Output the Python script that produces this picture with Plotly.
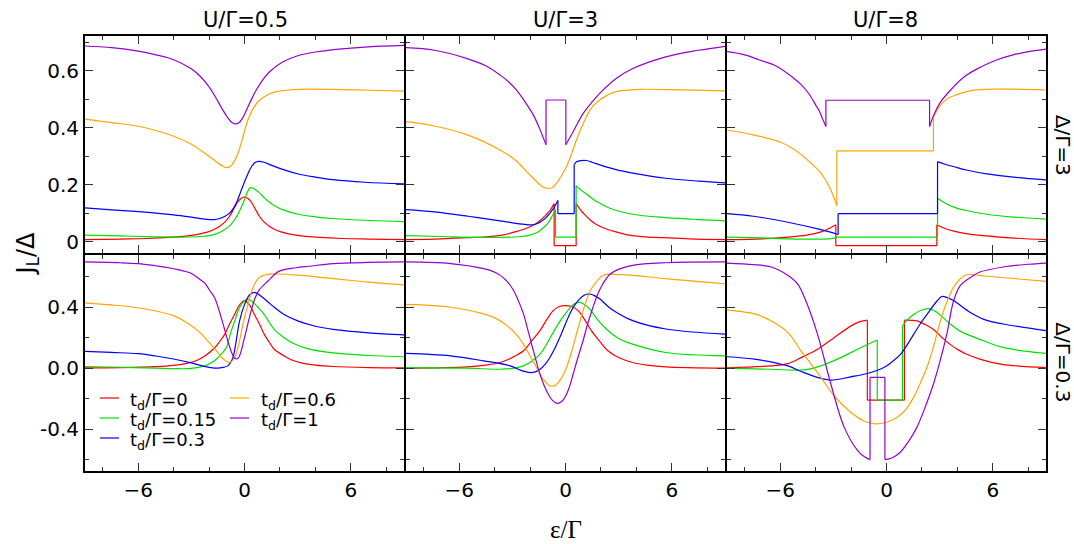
import plotly.graph_objects as go
from plotly.subplots import make_subplots

# column / row labels
u_labels = ["U/Γ=0.5", "U/Γ=3", "U/Γ=8"]
delta_labels = ["Δ/Γ=3", "Δ/Γ=0.3"]
td_labels = ["t<sub>d</sub>/Γ=0", "t<sub>d</sub>/Γ=0.15", "t<sub>d</sub>/Γ=0.3",
             "t<sub>d</sub>/Γ=0.6", "t<sub>d</sub>/Γ=1"]
colors = ["#ff0000", "#00e000", "#0000ff", "#ffa500", "#9400d3"]

# ---- Δ/Γ=3, U/Γ=0.5   (ε/Γ, J_L/Δ)
d3_u05_td0 = [(-9, 0.008), (-7, 0.01), (-5.5, 0.012), (-4, 0.017), (-3.2, 0.021), (-2.5, 0.028),
              (-1.8, 0.041), (-1.4, 0.055), (-1.1, 0.07), (-0.84, 0.09), (-0.6, 0.116), (-0.4, 0.138),
              (-0.2, 0.152), (0, 0.157), (0.2, 0.152), (0.4, 0.138), (0.6, 0.116), (0.84, 0.09),
              (1.1, 0.07), (1.4, 0.055), (1.8, 0.041), (2.5, 0.028), (3.2, 0.021), (4, 0.017),
              (5.5, 0.012), (7, 0.01), (9, 0.008)]
d3_u05_td015 = [(-9, 0.024), (-7, 0.021), (-5, 0.018), (-3.5, 0.017), (-2.5, 0.019), (-2, 0.022),
                (-1.6, 0.028), (-1.2, 0.04), (-0.84, 0.056), (-0.5, 0.083), (-0.25, 0.112), (0, 0.148),
                (0.15, 0.172), (0.32, 0.19), (0.5, 0.188), (0.75, 0.177), (1.0, 0.162), (1.3, 0.144),
                (1.7, 0.127), (2.15, 0.113), (3.1, 0.096), (4, 0.088), (5, 0.082), (7, 0.075), (9, 0.071)]
d3_u05_td03 = [(-9, 0.119), (-7.5, 0.112), (-6, 0.106), (-4, 0.095), (-3, 0.087), (-2.15, 0.079),
               (-1.7, 0.078), (-1.4, 0.082), (-1.1, 0.09), (-0.84, 0.101), (-0.6, 0.12), (-0.4, 0.145),
               (-0.2, 0.178), (0, 0.21), (0.2, 0.24), (0.4, 0.264), (0.6, 0.278), (0.8, 0.282),
               (1.1, 0.279), (1.5, 0.269), (2.15, 0.254), (3.1, 0.237), (4, 0.227), (5, 0.218),
               (6.8, 0.209), (9, 0.203)]
d3_u05_td06 = [(-9, 0.43), (-7.5, 0.418), (-6, 0.405), (-5, 0.39), (-4, 0.37), (-3, 0.342), (-2.5, 0.322),
               (-2, 0.3), (-1.6, 0.281), (-1.3, 0.268), (-1.03, 0.26), (-0.8, 0.264), (-0.6, 0.28),
               (-0.4, 0.305), (-0.2, 0.343), (0, 0.388), (0.2, 0.428), (0.47, 0.465), (0.75, 0.49),
               (1.03, 0.505), (1.4, 0.518), (1.8, 0.526), (2.5, 0.532), (3.5, 0.535), (5, 0.534),
               (7, 0.531), (9, 0.528)]
d3_u05_td1 = [(-9, 0.686), (-7.5, 0.68), (-6, 0.668), (-5, 0.655), (-4, 0.638), (-3, 0.606), (-2.5, 0.58),
              (-2, 0.543), (-1.6, 0.503), (-1.3, 0.47), (-1.0, 0.44), (-0.75, 0.42), (-0.5, 0.413),
              (-0.3, 0.418), (-0.1, 0.435), (0.1, 0.46), (0.4, 0.5), (0.65, 0.53), (1.0, 0.565),
              (1.4, 0.595), (2.15, 0.63), (3, 0.652), (4, 0.665), (5.5, 0.676), (7, 0.683), (9, 0.688)]

# ---- Δ/Γ=3, U/Γ=3
d3_u3_td0 = [(-9, 0.008), (-7, 0.011), (-5.5, 0.015), (-4.5, 0.018), (-3.5, 0.025), (-2.8, 0.036),
             (-2.2, 0.048), (-1.7, 0.063), (-1.4, 0.077), (-1.1, 0.095), (-0.88, 0.11), (-0.64, 0.134),
             (-0.64, -0.013), (0.6, -0.013), (0.6, 0.134), (0.88, 0.11), (1.1, 0.095), (1.4, 0.077),
             (1.7, 0.063), (2.2, 0.048), (2.8, 0.036), (3.5, 0.025), (4.5, 0.018), (5.5, 0.015),
             (7, 0.011), (9, 0.008)]
d3_u3_td015 = [(-9, 0.022), (-7, 0.019), (-5, 0.016), (-3.5, 0.016), (-2.5, 0.019), (-2, 0.024),
               (-1.6, 0.033), (-1.3, 0.047), (-1.0, 0.065), (-0.8, 0.085), (-0.56, 0.113), (-0.56, 0.017),
               (0.6, 0.017), (0.6, 0.197), (0.8, 0.185), (1.18, 0.168), (1.6, 0.148), (1.93, 0.136),
               (2.5, 0.118), (3.8, 0.097), (5.66, 0.085), (7.5, 0.078), (9, 0.074)]
d3_u3_td03 = [(-9, 0.113), (-7.4, 0.105), (-5.5, 0.09), (-3.7, 0.074), (-2.7, 0.064), (-2.1, 0.06),
              (-1.7, 0.062), (-1.44, 0.069), (-1.1, 0.085), (-0.88, 0.101), (-0.65, 0.12), (-0.43, 0.145),
              (-0.43, 0.099), (0.49, 0.099), (0.49, 0.27), (0.62, 0.281), (0.9, 0.285), (1.18, 0.285),
              (1.5, 0.279), (1.93, 0.27), (2.8, 0.254), (3.8, 0.241), (5.66, 0.223), (7.5, 0.213), (9, 0.207)]
d3_u3_td06 = [(-9, 0.421), (-7.4, 0.406), (-5.5, 0.374), (-3.7, 0.322), (-2.8, 0.285), (-2.19, 0.246),
              (-1.8, 0.222), (-1.44, 0.2), (-1.2, 0.19), (-0.97, 0.188), (-0.75, 0.19), (-0.5, 0.206),
              (-0.2, 0.235), (0.06, 0.264), (0.35, 0.31), (0.62, 0.357), (0.9, 0.4), (1.18, 0.438),
              (1.5, 0.472), (1.93, 0.497), (2.4, 0.515), (2.86, 0.526), (4.17, 0.534), (6, 0.533), (9, 0.529)]
d3_u3_td1 = [(-9, 0.68), (-7.4, 0.671), (-5.55, 0.642), (-4.5, 0.617), (-3.68, 0.584), (-3.2, 0.56),
             (-2.75, 0.531), (-2.3, 0.492), (-1.81, 0.444), (-1.45, 0.395), (-1.1, 0.34), (-1.1, 0.497),
             (0.02, 0.497), (0.02, 0.34), (0.43, 0.386), (1.0, 0.45), (1.5, 0.49), (1.93, 0.52),
             (2.86, 0.572), (3.8, 0.607), (5.66, 0.648), (7.5, 0.671), (9, 0.685)]

# ---- Δ/Γ=3, U/Γ=8
d3_u8_td0 = [(-9, 0.008), (-7, 0.011), (-5.57, 0.017), (-4.5, 0.024), (-3.7, 0.035), (-3.3, 0.045),
             (-2.86, 0.06), (-2.86, -0.013), (2.84, -0.013), (2.84, 0.06), (3.3, 0.047), (3.8, 0.038),
             (4.5, 0.029), (5.66, 0.021), (7, 0.014), (9, 0.008)]
d3_u8_td015 = [(-9, 0.017), (-7, 0.014), (-5.5, 0.011), (-4, 0.01), (-3.2, 0.011), (-2.86, 0.013),
               (-2.86, 0.017), (2.88, 0.017), (2.88, 0.153), (3.3, 0.136), (3.8, 0.122), (4.5, 0.11),
               (5.66, 0.097), (7, 0.088), (9, 0.08)]
d3_u8_td03 = [(-9, 0.099), (-7.5, 0.09), (-5.57, 0.069), (-3.7, 0.043), (-2.73, 0.026), (-2.73, 0.099),
              (2.88, 0.099), (2.88, 0.281), (3.3, 0.272), (3.78, 0.264), (4.5, 0.252), (5.66, 0.238),
              (7, 0.228), (9, 0.217)]
d3_u8_td06 = [(-9, 0.392), (-7.45, 0.374), (-6, 0.35), (-5, 0.315), (-4.3, 0.278), (-3.7, 0.241),
              (-3.2, 0.19), (-2.8, 0.127), (-2.8, 0.319), (2.65, 0.319), (2.65, 0.436), (3.02, 0.477),
              (3.4, 0.5), (3.77, 0.511), (4.71, 0.529), (6.21, 0.535), (9, 0.532)]
d3_u8_td1 = [(-9, 0.666), (-8, 0.655), (-7.16, 0.637), (-6.23, 0.616), (-5.29, 0.576), (-4.8, 0.55),
             (-4.36, 0.517), (-4.0, 0.48), (-3.8, 0.459), (-3.6, 0.43), (-3.42, 0.404), (-3.42, 0.496),
             (2.43, 0.496), (2.43, 0.404), (2.65, 0.442), (3.0, 0.485), (3.4, 0.517), (4.34, 0.576),
             (5.27, 0.611), (6.21, 0.637), (7.14, 0.655), (8.1, 0.667), (9, 0.675)]

# ---- Δ/Γ=0.3, U/Γ=0.5
d03_u05_td0 = [(-9, 0.002), (-7, 0.004), (-5, 0.01), (-4, 0.018), (-3.2, 0.033), (-2.7, 0.05),
               (-2.24, 0.08), (-1.68, 0.134), (-1.4, 0.175), (-1.12, 0.222), (-0.84, 0.29), (-0.56, 0.352),
               (-0.28, 0.415), (0, 0.443), (0.28, 0.415), (0.56, 0.352), (0.84, 0.29), (1.12, 0.222),
               (1.4, 0.17), (1.68, 0.124), (2.24, 0.08), (2.7, 0.052), (3.2, 0.035), (4, 0.02),
               (5, 0.011), (7, 0.004), (9, 0.002)]
d03_u05_td015 = [(-9, 0.011), (-7, 0.006), (-5, 0.0), (-4, -0.003), (-3, -0.002), (-2.24, 0.015),
                 (-1.8, 0.04), (-1.5, 0.069), (-1.25, 0.1), (-1.03, 0.134), (-0.75, 0.243), (-0.55, 0.31),
                 (-0.37, 0.374), (-0.1, 0.43), (0.1, 0.448), (0.28, 0.45), (0.5, 0.43), (0.8, 0.395),
                 (1.12, 0.352), (1.4, 0.3), (1.68, 0.254), (2.24, 0.2), (2.8, 0.16), (3.5, 0.13),
                 (5, 0.1), (7, 0.083), (9, 0.075)]
d03_u05_td03 = [(-9, 0.11), (-7.5, 0.103), (-6, 0.095), (-5, 0.08), (-4, 0.06), (-3, 0.035), (-2.2, 0.01),
                (-1.5, 0.0), (-1.2, 0.005), (-0.94, 0.015), (-0.8, 0.035), (-0.65, 0.069), (-0.47, 0.178),
                (-0.28, 0.309), (0, 0.417), (0.28, 0.48), (0.56, 0.498), (0.9, 0.475), (1.5, 0.417),
                (2.24, 0.352), (3, 0.31), (4, 0.275), (5, 0.255), (7, 0.232), (9, 0.218)]
d03_u05_td06 = [(-9, 0.429), (-7.5, 0.415), (-6.26, 0.4), (-5, 0.375), (-4, 0.345), (-3.27, 0.3),
                (-2.52, 0.235), (-2.24, 0.2), (-1.78, 0.14), (-1.5, 0.102), (-1.2, 0.06), (-0.84, 0.037),
                (-0.6, 0.06), (-0.37, 0.134), (-0.09, 0.287), (0.19, 0.417), (0.45, 0.52), (0.65, 0.57),
                (0.9, 0.6), (1.4, 0.617), (1.8, 0.618), (3, 0.61), (5, 0.588), (7, 0.565), (9, 0.547)]
d03_u05_td1 = [(-9, 0.697), (-7, 0.692), (-6, 0.686), (-5, 0.672), (-4.4, 0.662), (-3.7, 0.645),
               (-3.08, 0.626), (-2.6, 0.59), (-2.24, 0.558), (-1.96, 0.51), (-1.68, 0.46), (-1.31, 0.33),
               (-0.94, 0.178), (-0.75, 0.11), (-0.56, 0.065), (-0.4, 0.062), (-0.28, 0.08), (0, 0.2),
               (0.37, 0.374), (0.6, 0.46), (0.84, 0.515), (1.31, 0.57), (1.96, 0.637), (2.9, 0.659),
               (3.65, 0.669), (5, 0.686), (7, 0.694), (9, 0.697)]

# ---- Δ/Γ=0.3, U/Γ=3
d03_u3_td0 = [(-9, 0.0), (-5.55, 0.009), (-4.5, 0.02), (-3.68, 0.037), (-3, 0.07), (-2.37, 0.114),
              (-1.9, 0.18), (-1.44, 0.246), (-1.05, 0.32), (-0.69, 0.378), (-0.35, 0.405), (0, 0.411),
              (0.35, 0.405), (0.71, 0.378), (1.07, 0.32), (1.46, 0.246), (1.9, 0.18), (2.39, 0.114),
              (3, 0.07), (3.79, 0.037), (4.6, 0.02), (5.66, 0.009), (9, 0.0)]
d03_u3_td015 = [(-9, 0.004), (-5.55, 0.0), (-3.68, -0.007), (-2.9, 0.0), (-2.37, 0.015), (-1.9, 0.045),
                (-1.44, 0.092), (-1.05, 0.16), (-0.69, 0.235), (-0.3, 0.31), (0.06, 0.367), (0.4, 0.415),
                (0.75, 0.433), (1.05, 0.42), (1.36, 0.389), (1.8, 0.32), (2.3, 0.257), (3, 0.195),
                (3.79, 0.158), (5.66, 0.103), (9, 0.081)]
d03_u3_td03 = [(-9, 0.097), (-6.49, 0.081), (-4.62, 0.048), (-3.12, 0.015), (-2.5, -0.015), (-2.0, -0.029),
               (-1.7, -0.024), (-1.44, -0.007), (-1.15, 0.025), (-0.88, 0.07), (-0.6, 0.13), (-0.32, 0.202),
               (0.24, 0.356), (0.5, 0.41), (0.8, 0.455), (1.05, 0.478), (1.31, 0.488), (1.6, 0.478),
               (1.93, 0.455), (2.4, 0.405), (2.86, 0.367), (3.79, 0.312), (5.66, 0.257), (9, 0.224)]
d03_u3_td06 = [(-9, 0.418), (-6.49, 0.4), (-4.62, 0.356), (-3.9, 0.325), (-3.3, 0.279), (-2.8, 0.225),
               (-2.37, 0.158), (-2.0, 0.08), (-1.63, 0.004), (-1.25, -0.073), (-0.88, -0.116),
               (-0.6, -0.115), (-0.41, -0.095), (-0.15, -0.05), (0.06, 0.004), (0.35, 0.11), (0.62, 0.224),
               (0.9, 0.34), (1.18, 0.444), (1.45, 0.52), (1.74, 0.565), (2.0, 0.6), (2.3, 0.615),
               (3, 0.614), (3.79, 0.609), (5.66, 0.587), (9, 0.554)]
d03_u3_td1 = [(-9, 0.697), (-6.49, 0.686), (-4.62, 0.653), (-4.1, 0.635), (-3.68, 0.609), (-3.3, 0.57),
              (-2.93, 0.51), (-2.65, 0.44), (-2.37, 0.356), (-2.1, 0.24), (-1.81, 0.114), (-1.44, -0.04),
              (-1.2, -0.115), (-0.97, -0.171), (-0.75, -0.21), (-0.5, -0.231), (-0.25, -0.222),
              (-0.04, -0.193), (0.2, -0.13), (0.43, -0.04), (0.7, 0.07), (0.99, 0.18), (1.25, 0.29),
              (1.55, 0.4), (1.8, 0.48), (2.11, 0.554), (2.45, 0.61), (2.86, 0.642), (3.79, 0.675),
              (5.66, 0.692), (9, 0.697)]

# ---- Δ/Γ=0.3, U/Γ=8
d03_u8_td0 = [(-9, 0.004), (-6.5, 0.015), (-5.57, 0.03), (-4.82, 0.069), (-3.89, 0.124), (-2.96, 0.2),
              (-2.02, 0.276), (-1.5, 0.305), (-1.08, 0.315), (-1.08, -0.21), (1.01, -0.21), (1.01, 0.315),
              (1.72, 0.31), (2.2, 0.285), (2.65, 0.254), (3.1, 0.205), (3.59, 0.156), (4.05, 0.12),
              (4.53, 0.091), (5.27, 0.059), (6.5, 0.025), (9, 0.004)]
d03_u8_td015 = [(-9, 0.0), (-6.5, -0.007), (-4.82, -0.013), (-4.3, -0.005), (-3.7, 0.015), (-2.58, 0.069),
                (-1.46, 0.134), (-0.52, 0.185), (-0.52, -0.21), (0.9, -0.21), (0.9, 0.276), (1.2, 0.32),
                (1.53, 0.352), (1.95, 0.38), (2.37, 0.391), (2.8, 0.37), (3.21, 0.33), (3.7, 0.28),
                (4.15, 0.243), (5.27, 0.189), (6.58, 0.136), (9, 0.097)]
d03_u8_td03 = [(-9, 0.075), (-7.44, 0.059), (-5.57, 0.015), (-4.82, -0.022), (-3.89, -0.061),
               (-3.14, -0.078), (-2.02, -0.057), (-1.08, -0.035), (-0.15, 0.004), (0.3, 0.04),
               (0.79, 0.091), (1.15, 0.15), (1.53, 0.222), (1.9, 0.29), (2.28, 0.352), (2.84, 0.439),
               (3.12, 0.47), (3.4, 0.465), (3.78, 0.444), (4.71, 0.367), (5.5, 0.32), (6.58, 0.29),
               (9, 0.246)]
d03_u8_td06 = [(-9, 0.382), (-8, 0.368), (-7.44, 0.356), (-6.5, 0.31), (-5.57, 0.235), (-4.82, 0.113),
               (-3.89, -0.029), (-2.96, -0.181), (-2.02, -0.29), (-1.3, -0.345), (-0.71, -0.365),
               (0, -0.355), (0.6, -0.322), (1.1, -0.27), (1.53, -0.192), (1.9, -0.1), (2.28, 0.004),
               (2.6, 0.12), (2.84, 0.222), (3.12, 0.34), (3.5, 0.46), (3.78, 0.53), (4.15, 0.585),
               (4.52, 0.613), (5.5, 0.605), (7, 0.59), (9, 0.569)]
d03_u8_td1 = [(-9, 0.69), (-7.5, 0.68), (-6.5, 0.664), (-5.57, 0.609), (-5.0, 0.55), (-4.54, 0.439),
              (-3.89, 0.222), (-3.14, -0.104), (-2.39, -0.387), (-1.64, -0.539), (-1.2, -0.585),
              (-0.93, -0.6), (-0.93, -0.061), (-0.09, -0.061), (-0.09, -0.6), (0.3, -0.59), (0.79, -0.55),
              (1.25, -0.48), (1.72, -0.387), (2.2, -0.25), (2.65, -0.104), (3.05, 0.06), (3.4, 0.222),
              (3.78, 0.439), (4.15, 0.54), (4.8, 0.6), (5.27, 0.631), (6.58, 0.664), (8, 0.682),
              (9, 0.69)]

panels = {
    (1, 1): [d3_u05_td0, d3_u05_td015, d3_u05_td03, d3_u05_td06, d3_u05_td1],
    (1, 2): [d3_u3_td0, d3_u3_td015, d3_u3_td03, d3_u3_td06, d3_u3_td1],
    (1, 3): [d3_u8_td0, d3_u8_td015, d3_u8_td03, d3_u8_td06, d3_u8_td1],
    (2, 1): [d03_u05_td0, d03_u05_td015, d03_u05_td03, d03_u05_td06, d03_u05_td1],
    (2, 2): [d03_u3_td0, d03_u3_td015, d03_u3_td03, d03_u3_td06, d03_u3_td1],
    (2, 3): [d03_u8_td0, d03_u8_td015, d03_u8_td03, d03_u8_td06, d03_u8_td1],
}

FONT = "DejaVu Sans, Verdana, sans-serif"
LW = 2            # frame width; plotly draws frames outside the plot area
PW, PH = 961, 435  # plot area in px (left 85, top 36)


def split_jumps(pts):
    """Break a curve at vertical jumps so the smooth parts can be splined
    while each jump stays a straight vertical stroke."""
    xs, ys = [], []
    for i, (x, y) in enumerate(pts):
        xs.append(x)
        ys.append(y)
        if i + 1 < len(pts) and pts[i + 1][0] == x:
            nx, ny = pts[i + 1]
            xs += [None, x, nx, None]
            ys += [None, y, ny, None]
    return xs, ys


fig = make_subplots(rows=2, cols=3, horizontal_spacing=LW / PW, vertical_spacing=LW / PH)

for (r, c), curves in panels.items():
    for i, pts in enumerate(curves):
        xs, ys = split_jumps(pts)
        fig.add_trace(go.Scatter(
            x=xs, y=ys, mode="lines", connectgaps=False, hoverinfo="skip",
            line=dict(color=colors[i], width=1.2, shape="spline", smoothing=1.0),
            name=td_labels[i], showlegend=False,
        ), row=r, col=c)

axis_common = dict(
    showline=True, linecolor="black", linewidth=LW, mirror="allticks",
    ticks="inside", ticklen=8, tickwidth=1, tickcolor="#333",
    showgrid=False, zeroline=False,
    tickfont=dict(family=FONT, size=20, color="black"),
)
fig.update_xaxes(**axis_common, range=[-9, 9], tickmode="array", tickvals=[-6, 0, 6],
                 minor=dict(ticks="inside", ticklen=4, tickmode="linear", tick0=0, dtick=2,
                            tickcolor="#333", showgrid=False))
fig.update_xaxes(showticklabels=False, row=1)
fig.update_yaxes(**axis_common)
fig.update_yaxes(range=[-0.037, 0.721], tickmode="array", tickvals=[0, 0.2, 0.4, 0.6],
                 ticktext=["0", "0.2", "0.4", "0.6"],
                 minor=dict(ticks="inside", ticklen=4, tickmode="linear", tick0=0, dtick=0.1,
                            tickcolor="#333", showgrid=False), row=1)
fig.update_yaxes(range=[-0.675, 0.746], tickmode="array", tickvals=[-0.4, 0, 0.4],
                 ticktext=["-0.4", "0.0", "0.4"],
                 minor=dict(ticks="inside", ticklen=4, tickmode="linear", tick0=0, dtick=0.2,
                            tickcolor="#333", showgrid=False), row=2)
for c in (2, 3):
    fig.update_yaxes(showticklabels=False, col=c)

annotations = []
for j, lab in enumerate(u_labels):
    annotations.append(dict(text=lab, x=(j + 0.5) / 3, y=1, xref="paper", yref="paper",
                            xanchor="center", yanchor="bottom", yshift=2, showarrow=False,
                            font=dict(family=FONT, size=21, color="black")))
for k, lab in enumerate(delta_labels):
    annotations.append(dict(text=lab, x=(1063 - 85) / PW, y=0.75 - 0.5 * k, xref="paper",
                            yref="paper", xanchor="center", yanchor="middle", textangle=90,
                            showarrow=False, font=dict(family=FONT, size=20, color="black")))
annotations.append(dict(text="J<sub>L</sub>/Δ", x=(27 - 85) / PW, y=0.5, xref="paper", yref="paper",
                        xanchor="center", yanchor="middle", textangle=-90, showarrow=False,
                        font=dict(family=FONT, size=24, color="black")))
annotations.append(dict(text="ε/Γ", x=0.5, y=(471 - 529) / PH, xref="paper", yref="paper",
                        xanchor="center", yanchor="middle", showarrow=False,
                        font=dict(family="Liberation Serif, Times New Roman, serif", size=25,
                                  color="black")))

# legend drawn by hand (two columns, tight rows, short samples like the original)
shapes = []
legend_pos = [(100, 128, 398), (100, 128, 418), (100, 128, 438), (230, 259, 398), (230, 259, 418)]
for i, (x0, xt, yc) in enumerate(legend_pos):
    shapes.append(dict(type="line", xref="paper", yref="paper",
                       x0=(x0 - 85) / PW, x1=(x0 + 19 - 85) / PW,
                       y0=(471 - yc) / PH, y1=(471 - yc) / PH,
                       line=dict(color=colors[i], width=1.2)))
    annotations.append(dict(text=td_labels[i], x=(xt - 85) / PW, y=(471 - yc - 3) / PH,
                            xref="paper", yref="paper", xanchor="left", yanchor="middle",
                            showarrow=False, font=dict(family=FONT, size=18, color="black")))

fig.update_layout(
    width=1074, height=544,
    margin=dict(l=85, r=28, t=36, b=73),
    paper_bgcolor="white", plot_bgcolor="white",
    annotations=annotations, shapes=shapes,
    showlegend=False, hovermode=False,
)

# drop the default 8px page margin so the figure fills the window exactly
fig.write_html("out.html", config={"displayModeBar": False},
               post_script="document.body.style.margin='0';document.body.style.overflow='hidden';")
